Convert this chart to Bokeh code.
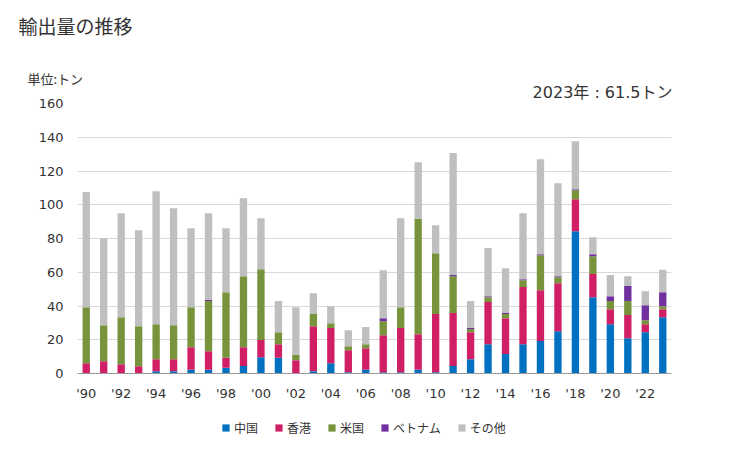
from bokeh.plotting import figure
from bokeh.models import Range1d, FixedTicker, Label, Legend, LegendItem, ColumnDataSource, GridBox
from bokeh.embed import file_html
from bokeh.resources import INLINE

years = list(range(1990, 2024))
china   = [0, 0, 0, 0, 1.4, 1.4, 2.2, 2.2, 3.4, 4.5, 9.7, 9.3, 0, 1.4, 6.1, 0.8, 2.2, 0.8, 0.8, 2.2, 0.8, 4.5, 8.5, 17.4, 11.5, 17.4, 19.2, 25.1, 84.3, 45.2, 29.2, 20.9, 24.5, 33.4]
hongkong = [6.1, 7.3, 5.5, 4.3, 7.1, 7.1, 13.4, 11.0, 5.9, 11.1, 10.1, 8.1, 7.9, 26.6, 20.8, 13.0, 12.8, 21.9, 26.1, 21.1, 34.4, 31.3, 16.0, 24.9, 21.3, 33.8, 30.2, 28.4, 19.0, 13.7, 8.9, 13.7, 4.7, 4.7]
usa     = [33.2, 21.3, 27.9, 23.7, 20.7, 20.1, 23.7, 29.7, 38.9, 42.1, 42.0, 7.1, 3.0, 7.2, 2.9, 2.4, 2.4, 8.3, 12.4, 68.2, 36.1, 21.9, 1.8, 2.9, 2.4, 4.1, 20.7, 3.6, 5.3, 10.6, 4.8, 8.3, 2.4, 1.8]
vietnam = [0, 0, 0, 0, 0, 0, 0, 0.6, 0, 0, 0, 0, 0, 0, 0, 0, 0, 1.8, 0, 0, 0, 0.6, 0.6, 0.6, 0.6, 0.6, 0.6, 0.6, 0.6, 1.2, 2.9, 8.9, 8.9, 8.3]
others  = [68.2, 51.6, 61.6, 56.9, 78.8, 69.4, 46.8, 51.5, 37.9, 46.2, 30.2, 18.4, 28.4, 12.4, 10.1, 9.5, 10.1, 28.4, 52.7, 33.7, 16.6, 72.3, 16.0, 28.5, 26.6, 39.1, 56.3, 55.1, 28.5, 10.1, 12.5, 5.9, 8.3, 13.3]
series_names = ["中国", "香港", "米国", "ベトナム", "その他"]
colors = ["#0070C0", "#D01F65", "#77933C", "#7030A0", "#BFBFBF"]
y_ticks = [0, 20, 40, 60, 80, 100, 120, 140, 160]
x_tick_years = list(range(1990, 2024, 2))
x_tick_labels = ["'" + str(y)[2:] for y in x_tick_years]
title_text = "輸出量の推移"
unit_text = "単位:トン"
latest_text = "2023年 : 61.5トン"

JP = "Noto Sans CJK JP"
NUM = "DejaVu Sans, Noto Sans CJK JP"
TXT = "#333333"
W, H = 721, 445

idx = list(range(len(years)))
keys = ["china", "hongkong", "usa", "vietnam", "others"]
src = ColumnDataSource(dict(x=idx, china=china, hongkong=hongkong, usa=usa, vietnam=vietnam, others=others))

# ---- main chart
p = figure(width=W, height=H, output_backend="svg", toolbar_location=None,
           x_range=Range1d(-0.5, len(years) - 0.5), y_range=Range1d(0, 160), frame_align=False,
           min_border_left=77, min_border_right=50, min_border_top=103, min_border_bottom=H - 373)
p.outline_line_color = None
p.background_fill_color = "white"
p.border_fill_color = "white"
renderers = p.vbar_stack(keys, x="x", width=0.42, source=src, color=colors, line_color=None)

p.xgrid.grid_line_color = None
p.ygrid.grid_line_color = "#D9D9D9"
p.ygrid.grid_line_width = 1
p.yaxis.ticker = FixedTicker(ticks=y_ticks)
p.yaxis.axis_line_color = None
p.yaxis.major_tick_line_color = None
p.yaxis.minor_tick_line_color = None
p.yaxis.major_tick_out = 0
p.yaxis.major_tick_in = 0
p.yaxis.minor_tick_out = 0
p.yaxis.major_label_standoff = 14
p.xaxis.ticker = FixedTicker(ticks=[years.index(y) for y in x_tick_years])
p.xaxis.major_label_overrides = {years.index(y): lab for y, lab in zip(x_tick_years, x_tick_labels)}
p.xaxis.axis_line_color = "#999999"
p.xaxis.major_tick_line_color = None
p.xaxis.minor_tick_line_color = None
p.xaxis.major_tick_out = 0
p.xaxis.major_tick_in = 0
p.xaxis.minor_tick_out = 0
p.xaxis.major_label_standoff = 12
for ax in (p.xaxis, p.yaxis):
    ax.major_label_text_font = NUM
    ax.major_label_text_font_size = "13px"
    ax.major_label_text_color = TXT

# ---- transparent overlay carrying titles and legend (pixel coordinates, y downwards)
ov = figure(width=W, height=H, output_backend="svg", toolbar_location=None,
            x_range=Range1d(0, W), y_range=Range1d(H, 0), frame_align=False,
            min_border_left=0, min_border_right=0, min_border_top=0, min_border_bottom=0)
ov.outline_line_color = None
ov.background_fill_alpha = 0
ov.border_fill_alpha = 0
ov.xaxis.visible = False
ov.yaxis.visible = False
ov.xgrid.visible = False
ov.ygrid.visible = False

ov.add_layout(Label(x=18, y=24.5, text=title_text, text_font=JP, text_font_size="19px",
                    text_color=TXT, text_baseline="middle", text_align="left"))
ov.add_layout(Label(x=27, y=78, text=unit_text, text_font=JP, text_font_size="13px",
                    text_color=TXT, text_baseline="middle", text_align="left"))
ov.add_layout(Label(x=672, y=92, text=latest_text, text_font=NUM, text_font_size="16px",
                    text_color=TXT, text_baseline="middle", text_align="right"))

leg_renderers = ov.vbar_stack(keys, x="x", width=0.42, source=src, color=colors, line_color=None)
for r in leg_renderers:
    r.visible = False
legend = Legend(items=[LegendItem(label=n, renderers=[r]) for n, r in zip(series_names, leg_renderers)],
                orientation="horizontal", location=(221, H - 436), padding=0, margin=0, spacing=16,
                label_standoff=4, glyph_width=9, glyph_height=9, label_height=16,
                label_text_font=JP, label_text_font_size="12px", label_text_color=TXT,
                border_line_color=None, background_fill_alpha=0,
                inactive_fill_alpha=0, click_policy="none")
ov.add_layout(legend, "center")

layout = GridBox(children=[(p, 0, 0), (ov, 0, 0)])
open("out.html", "w").write(file_html(layout, INLINE))
